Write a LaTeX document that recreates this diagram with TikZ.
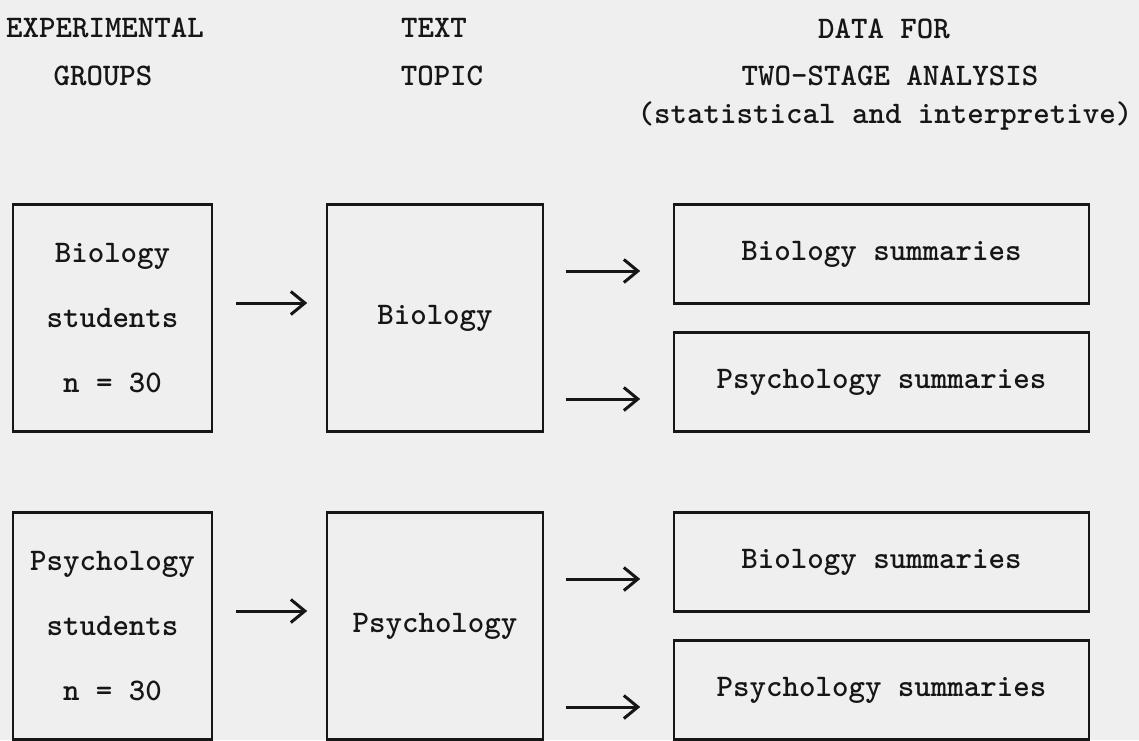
\documentclass[tikz,border=0pt]{standalone}
\usetikzlibrary{arrows.meta,calc}
\definecolor{paper}{RGB}{239,239,239}
\definecolor{ink}{RGB}{22,22,22}

\begin{document}
\begin{tikzpicture}[x=1pt,y=-1pt,
  every node/.style={font=\ttfamily\bfseries\fontsize{31.4}{65}\selectfont, text=ink},
  head/.style={anchor=base, inner sep=0pt},
  cell/.style={draw=ink, line width=1.6pt, inner sep=0pt, align=center},
  group/.style={cell, minimum width=199pt, minimum height=226pt},
  topic/.style={cell, minimum width=216pt, minimum height=226pt},
  result/.style={cell, minimum width=415pt, minimum height=98pt},
  rule/.style={draw=ink, line width=3.2pt},
  arr/.style={draw=ink, line width=3pt, -{Straight Barb[length=14pt,width=23pt]}}]
  \useasboundingbox (0,0) rectangle (1139,740);
  \fill[paper] (0,0) rectangle (1139,740);

  % Column headings
  \node[head] (hexp)   at (105,37)  {EXPERIMENTAL};
  \node[head] (hgrp)   at (103,85)  {GROUPS};
  \node[head] (htext)  at (434,37)  {TEXT};
  \node[head] (htopic) at (442,85)  {TOPIC};
  \node[head] (hdata)  at (884,38)  {DATA FOR};
  \node[head] (htwo)   at (890,85)  {TWO-STAGE ANALYSIS};
  \node[head] (hstat)  at (885,123) {(statistical and interpretive)};

  % Biology group
  \node[group]  (biostud)  at (112.5,318) {Biology\\students\\n = 30};
  \node[topic]  (biotopic) at (435,318)   {Biology};
  \node[result] (biobio)   at (881.5,254) {Biology summaries};
  \node[result] (biopsy)   at (881.5,382) {Psychology summaries};

  % Psychology group
  \node[group]  (psystud)  at (112.5,626) {Psychology\\students\\n = 30};
  \node[topic]  (psytopic) at (435,626)   {Psychology};
  \node[result] (psybio)   at (881.5,562) {Biology summaries};
  \node[result] (psypsy)   at (881.5,690) {Psychology summaries};

  % Heavy top and bottom rules
  \foreach \n in {biostud,biotopic,biobio,biopsy,psystud,psytopic,psybio,psypsy}
    \draw[rule] (\n.north west) -- (\n.north east) (\n.south west) -- (\n.south east);

  % Arrows
  \draw[arr, shorten <=23pt, shorten >=19pt] ($(biostud.east)+(0,-15)$) -- ($(biotopic.west)+(0,-15)$);
  \draw[arr, shorten <=23pt, shorten >=19pt] ($(psystud.east)+(0,-15)$) -- ($(psytopic.west)+(0,-15)$);
  \draw[arr, shorten <=22pt, shorten >=33pt] ($(biotopic.east|-biobio.west)+(0,17)$) -- ($(biobio.west)+(0,17)$);
  \draw[arr, shorten <=22pt, shorten >=33pt] ($(biotopic.east|-biopsy.west)+(0,17)$) -- ($(biopsy.west)+(0,17)$);
  \draw[arr, shorten <=22pt, shorten >=33pt] ($(psytopic.east|-psybio.west)+(0,17)$) -- ($(psybio.west)+(0,17)$);
  \draw[arr, shorten <=22pt, shorten >=33pt] ($(psytopic.east|-psypsy.west)+(0,17)$) -- ($(psypsy.west)+(0,17)$);
\end{tikzpicture}
\end{document}
